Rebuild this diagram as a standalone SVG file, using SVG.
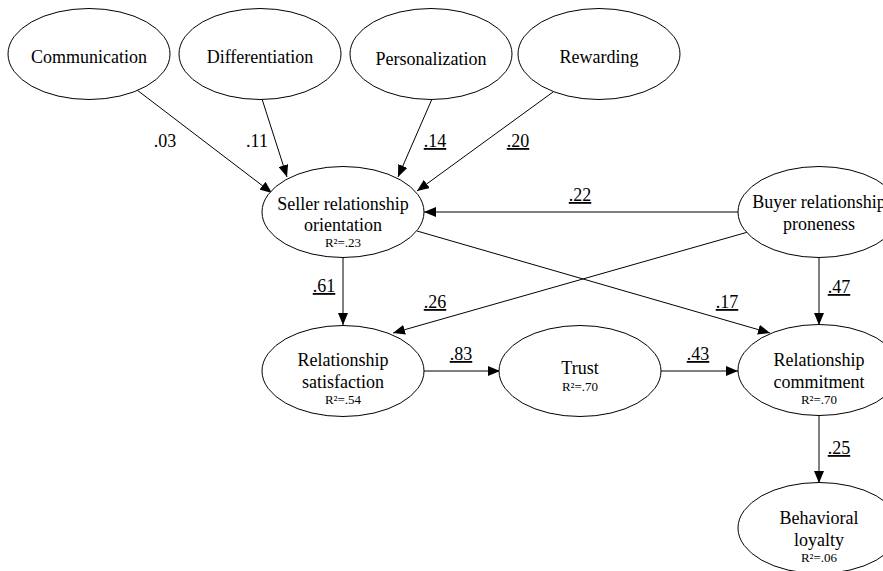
<svg xmlns="http://www.w3.org/2000/svg" width="883" height="571" viewBox="0 0 883 571">
<defs>
<marker id="ah" markerWidth="12" markerHeight="10" refX="12" refY="5" orient="auto" markerUnits="userSpaceOnUse">
<path d="M0,0 L12,5 L0,10 z" fill="#000"/>
</marker>
<style>
ellipse{fill:#fff;stroke:#000;stroke-width:1}
text{font-family:"Liberation Serif","Times New Roman",serif;fill:#000;text-anchor:middle}
.n{font-size:18px}
.r{font-size:13px}
.l{font-size:18px}
.u{text-decoration:underline}
#edges line{stroke:#000;stroke-width:1;marker-end:url(#ah)}
</style>
</defs>
<rect width="883" height="571" fill="#fff"/>
<g id="edges">
<line x1="137" y1="90" x2="272" y2="193"/>
<line x1="262" y1="99" x2="287" y2="177"/>
<line x1="432" y1="99" x2="398" y2="177"/>
<line x1="553" y1="92" x2="417" y2="191"/>
<line x1="738" y1="212" x2="424" y2="212"/>
<line x1="417" y1="231" x2="770" y2="333"/>
<line x1="748" y1="232" x2="393" y2="333"/>
<line x1="343" y1="257" x2="343" y2="325"/>
<line x1="819" y1="257" x2="819" y2="325"/>
<line x1="423" y1="371" x2="500" y2="371"/>
<line x1="661" y1="371" x2="738" y2="371"/>
<line x1="819" y1="415" x2="819" y2="483"/>
<text class="l" x="165" y="147">.03</text>
<text class="l" x="257" y="147">.11</text>
<text class="l u" x="435" y="147">.14</text>
<text class="l u" x="518" y="147">.20</text>
<text class="l u" x="580" y="201">.22</text>
<text class="l u" x="324" y="292">.61</text>
<text class="l u" x="435" y="308">.26</text>
<text class="l u" x="727" y="308">.17</text>
<text class="l u" x="839" y="293">.47</text>
<text class="l u" x="461" y="360">.83</text>
<text class="l u" x="698" y="360">.43</text>
<text class="l u" x="839" y="454">.25</text>
</g>
<g id="communication">
<ellipse cx="89" cy="54" rx="81" ry="45.5"/>
<text class="n" x="89" y="63">Communication</text>
</g>
<g id="differentiation">
<ellipse cx="260" cy="54" rx="81" ry="45.5"/>
<text class="n" x="260" y="63">Differentiation</text>
</g>
<g id="personalization">
<ellipse cx="431" cy="54" rx="81" ry="45.5"/>
<text class="n" x="431" y="65">Personalization</text>
</g>
<g id="rewarding">
<ellipse cx="599" cy="54" rx="81" ry="45.5"/>
<text class="n" x="599" y="63">Rewarding</text>
</g>
<g id="seller">
<ellipse cx="343" cy="212" rx="81" ry="45.5"/>
<text class="n" x="343" y="210">Seller relationship</text>
<text class="n" x="343" y="231">orientation</text>
<text class="r" x="343" y="247">R²=.23</text>
</g>
<g id="buyer">
<ellipse cx="819" cy="212" rx="81" ry="45.5"/>
<text class="n" x="819" y="208">Buyer relationship</text>
<text class="n" x="819" y="230">proneness</text>
</g>
<g id="satisfaction">
<ellipse cx="343" cy="371" rx="81" ry="45.5"/>
<text class="n" x="343" y="366">Relationship</text>
<text class="n" x="343" y="388">satisfaction</text>
<text class="r" x="343" y="404">R²=.54</text>
</g>
<g id="trust">
<ellipse cx="580" cy="371" rx="81" ry="45.5"/>
<text class="n" x="580" y="374">Trust</text>
<text class="r" x="580" y="391">R²=.70</text>
</g>
<g id="commitment">
<ellipse cx="819" cy="370" rx="81" ry="45.5"/>
<text class="n" x="819" y="366">Relationship</text>
<text class="n" x="819" y="388">commitment</text>
<text class="r" x="819" y="404">R²=.70</text>
</g>
<g id="loyalty">
<ellipse cx="819" cy="528" rx="81" ry="45.5"/>
<text class="n" x="819" y="524">Behavioral</text>
<text class="n" x="819" y="546">loyalty</text>
<text class="r" x="819" y="562">R²=.06</text>
</g>
</svg>
